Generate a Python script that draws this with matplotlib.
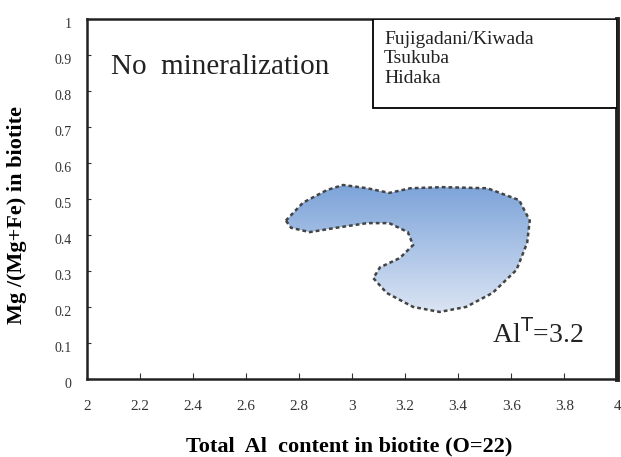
import numpy as np
import matplotlib

matplotlib.use("Agg")
from matplotlib import pyplot as plt
from matplotlib import transforms
from matplotlib.patches import Polygon, Rectangle
from matplotlib.colors import LinearSegmentedColormap

plt.rcParams["font.family"] = ["Liberation Serif", "DejaVu Serif"]

# outline of the field (Total Al, Mg/(Mg+Fe))
field_al = [2.75, 2.815, 2.905, 2.966, 3.057, 3.14, 3.22, 3.34, 3.51, 3.63, 3.67,
            3.66, 3.62, 3.53, 3.43, 3.33, 3.23, 3.13, 3.08, 3.105, 3.18, 3.23,
            3.21, 3.14, 3.057, 2.94, 2.84, 2.77]
field_mg = [0.44, 0.49, 0.525, 0.539, 0.53, 0.517, 0.53, 0.533, 0.53, 0.497, 0.44,
            0.378, 0.303, 0.239, 0.2, 0.186, 0.2, 0.239, 0.28, 0.31, 0.336, 0.372,
            0.408, 0.433, 0.433, 0.42, 0.408, 0.42]

localities = ["Fujigadani/Kiwada", "Tsukuba", "Hidaka"]
x_ticks = [2, 2.2, 2.4, 2.6, 2.8, 3, 3.2, 3.4, 3.6, 3.8, 4]
y_ticks = [0, 0.1, 0.2, 0.3, 0.4, 0.5, 0.6, 0.7, 0.8, 0.9, 1]


def fmt(v):
    return "%g" % v


fig = plt.figure(figsize=(6.21, 4.57), dpi=100)
ax = fig.add_axes([0.140, 0.171, 0.854, 0.787])

# gradient-filled field with dotted outline
poly = Polygon(np.column_stack([field_al, field_mg]), closed=True,
               facecolor="none", edgecolor="#444444", lw=1.8,
               linestyle=(0, (1.5, 1.2)), zorder=3)
ax.add_patch(poly)
grad = np.linspace(0, 1, 256).reshape(-1, 1)
cmap = LinearSegmentedColormap.from_list("fld", ["#dae4f3", "#7ca3d9"])
im = ax.imshow(grad, cmap=cmap, origin="lower", aspect="auto",
               extent=[min(field_al), max(field_al), min(field_mg), max(field_mg)],
               zorder=2)
im.set_clip_path(poly)
ax.set_xlim(2, 4)
ax.set_ylim(0, 1)

# legend-like box with locality names
ax.add_patch(Rectangle((0.54, 0.753), 0.46, 0.247, transform=ax.transAxes,
                       facecolor="white", edgecolor="black", lw=1.3, zorder=4))
for i, name in enumerate(localities):
    ax.text(0.560, 0.944 - i * 0.054, name, transform=ax.transAxes,
            fontsize=14, va="center", ha="left", color="#222222", zorder=5)

ax.text(0.046, 0.868, "No  mineralization", transform=ax.transAxes,
        fontsize=21, va="center", ha="left", color="#222222")
ax.text(0.936, 0.125, r"Al$^{\mathrm{T}}$=3.2", transform=ax.transAxes,
        fontsize=20, va="center", ha="right", color="#222222")

ax.set_xticks(x_ticks)
ax.set_xticklabels([fmt(v) for v in x_ticks])
ax.set_yticks(y_ticks)
ax.set_yticklabels([fmt(v) for v in y_ticks])
ax.tick_params(axis="x", direction="in", length=4, pad=15, labelsize=11,
               colors="#333333")
ax.tick_params(axis="y", direction="in", length=3, pad=11, labelsize=10,
               colors="#333333")
shift = transforms.ScaledTranslation(0, -4 / 100, fig.dpi_scale_trans)
for lab in ax.get_yticklabels():
    lab.set_transform(lab.get_transform() + shift)
for s in ["left", "bottom", "top"]:
    ax.spines[s].set_linewidth(1.8)
    ax.spines[s].set_color("#222222")
ax.spines["right"].set_linewidth(3.5)
ax.spines["right"].set_color("#222222")

ax.set_xlabel("Total  Al  content in biotite (O=22)", fontsize=16,
              fontweight="bold", va="center")
ax.xaxis.set_label_coords(0.494, -0.189)
ax.set_ylabel("Mg /(Mg+Fe) in biotite", fontsize=16, fontweight="bold",
              va="center")
ax.yaxis.set_label_coords(-0.132, 0.455)

fig.savefig("out.png", dpi=100)
